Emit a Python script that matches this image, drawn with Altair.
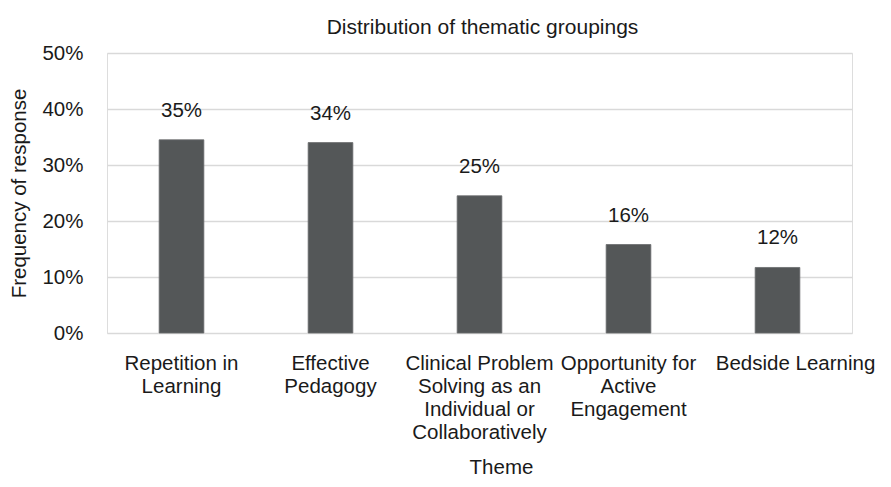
import altair as alt
import pandas as pd

themes = [
    "Repetition in|Learning",
    "Effective|Pedagogy",
    "Clinical Problem|Solving as an|Individual or|Collaboratively",
    "Opportunity for|Active|Engagement",
    "Bedside Learning",
]
freq = [0.345, 0.340, 0.245, 0.158, 0.117]
freq_labels = ["35%", "34%", "25%", "16%", "12%"]
y_ticks = [0, 0.1, 0.2, 0.3, 0.4, 0.5]

df = pd.DataFrame({"theme": themes, "freq": freq, "label": freq_labels})

FONT = "Liberation Sans"
TXT = "#1a1a1a"
FS = 20.5

x_enc = alt.X(
    "theme:N",
    sort=themes,
    scale=alt.Scale(paddingInner=0.7, paddingOuter=0.35),
    axis=alt.Axis(
        title="Theme",
        labelExpr="split(datum.label, '|')",
        labelAngle=0,
        labelFont=FONT,
        labelFontSize=FS,
        labelColor=TXT,
        labelPadding=20,
        labelLineHeight=23,
        labelBaseline="top",
        labelOverlap=False,
        labelLimit=400,
        labelOffset={"condition": {"test": "datum.value == 'Bedside Learning'", "value": 18}, "value": 0},
        ticks=False,
        domain=False,
        grid=False,
        titleFont=FONT,
        titleFontSize=FS,
        titleFontWeight="normal",
        titleColor=TXT,
        titleX=394,
        titleY=140,
        titleAlign="center",
        titleBaseline="alphabetic",
    ),
)

y_enc = alt.Y(
    "freq:Q",
    scale=alt.Scale(domain=[0, 0.5]),
    axis=alt.Axis(
        title="Frequency of response",
        format=".0%",
        values=y_ticks,
        labelFont=FONT,
        labelFontSize=FS,
        labelColor=TXT,
        labelPadding=24,
        ticks=False,
        domain=False,
        gridColor="#d9d9d9",
        gridWidth=1.5,
        titleFont=FONT,
        titleFontSize=FS,
        titleFontWeight="normal",
        titleColor=TXT,
        titleAngle=270,
        titleX=-82,
        titleY=140,
        titleAlign="center",
        titleBaseline="alphabetic",
    ),
)

base = alt.Chart(df)

bars = base.mark_bar(color="#545758", stroke="#6a6c6d", strokeWidth=0.8).encode(x=x_enc, y=y_enc)

labels = base.mark_text(
    dy=-29, baseline="middle", font=FONT, fontSize=FS, color=TXT
).encode(x=alt.X("theme:N", sort=themes), y=alt.Y("freq:Q"), text="label:N")

chart = (
    alt.layer(bars, labels)
    .properties(
        width=745,
        height=280,
        autosize=alt.AutoSizeParams(type="none"),
        padding={"left": 99, "top": 45, "right": 31, "bottom": 146},
        title=alt.TitleParams(
            "Distribution of thematic groupings",
            font=FONT,
            fontSize=21,
            fontWeight="normal",
            color=TXT,
            anchor="middle",
            offset=5,
            dx=3,
        ),
    )
    .configure_view(stroke=None)
    .configure(background="white")
)

chart.save("out.html", embed_options={"renderer": "svg", "actions": False})
